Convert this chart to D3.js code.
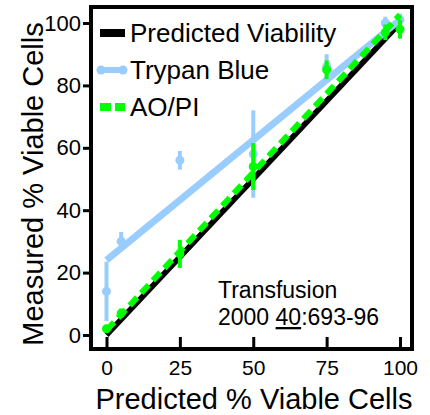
<!DOCTYPE html>
<html>
<head>
<meta charset="utf-8">
<script src="https://cdn.jsdelivr.net/npm/d3@7"></script>
<style>
  html, body { margin: 0; padding: 0; background: #fff; }
  svg { display: block; font-family: "Liberation Sans", Arial, sans-serif; }
</style>
</head>
<body>
<div id="chart"></div>
<script>
// Measured vs predicted viability - Trypan Blue vs AO/PI

const predicted = [0, 5, 25, 50, 75, 95, 100];
const trypanMean = [14, 30, 56, 58, 86, 100, 101];
const trypanErr = [9.5, 3, 3, 14, 4, 2, 2];
const aopiMean = [2, 7, 26, 54, 85, 97, 98];
const aopiErr = [1, 1.5, 4.5, 7.5, 3, 2.5, 3];

// fitted lines, [x, y] end points
const idealLine = [[0, 0], [100, 100]];
const trypanFit = [[0, 24], [100, 101]];
const aopiFit = [[0, 1.5], [100, 102.6]];

const xTicks = [0, 25, 50, 75, 100];
const yTicks = [0, 20, 40, 60, 80, 100];

const legendNames = ['Predicted Viability', 'Trypan Blue', 'AO/PI'];

const BLUE = '#99ccff';
const GREEN = '#00ff00';

const svg = d3.select('#chart').append('svg')
  .attr('width', 430)
  .attr('height', 415);

const x = d3.scaleLinear().domain([0, 100]).range([106.5, 400]);
const y = d3.scaleLinear().domain([0, 100]).range([335, 23]);

const line = d3.line()
  .x(d => x(d[0]))
  .y(d => y(d[1]));

// Frame
svg.append('rect')
  .attr('x', 91)
  .attr('y', 7)
  .attr('width', 321)
  .attr('height', 342)
  .attr('fill', 'none')
  .attr('stroke', '#000')
  .attr('stroke-width', 4);

// Y axis: ticks outward on the left
const yAxis = d3.axisLeft(y).tickValues(yTicks).tickSize(8).tickPadding(2);
const gy = svg.append('g')
  .attr('transform', 'translate(91,0)')
  .call(yAxis);
gy.select('.domain').remove();
gy.selectAll('.tick line').attr('stroke-width', 3);
gy.selectAll('.tick text')
  .attr('font-size', 22)
  .attr('font-family', '"Liberation Sans", Arial, sans-serif')
  .attr('fill', '#000');

// X axis: ticks pointing inward from the bottom edge
const xAxis = d3.axisBottom(x).tickValues(xTicks).tickSize(-12).tickPadding(0);
const gx = svg.append('g')
  .attr('transform', 'translate(0,349)')
  .call(xAxis);
gx.select('.domain').remove();
gx.selectAll('.tick line').attr('stroke-width', 3);
gx.selectAll('.tick text')
  .attr('y', 26)
  .attr('dy', 0)
  .attr('font-size', 21)
  .attr('font-family', '"Liberation Sans", Arial, sans-serif')
  .attr('fill', '#000');

// Axis titles
svg.append('text')
  .attr('x', 254)
  .attr('y', 409)
  .attr('text-anchor', 'middle')
  .attr('font-size', 29)
  .text('Predicted % Viable Cells');

svg.append('text')
  .attr('transform', 'translate(43,184) rotate(-90)')
  .attr('text-anchor', 'middle')
  .attr('font-size', 29)
  .text('Measured % Viable Cells');

// Lines
svg.append('path')
  .datum(idealLine)
  .attr('d', line)
  .attr('fill', 'none')
  .attr('stroke', '#000')
  .attr('stroke-width', 5.5);

svg.append('path')
  .datum(trypanFit)
  .attr('d', line)
  .attr('fill', 'none')
  .attr('stroke', BLUE)
  .attr('stroke-width', 7);

// Trypan blue error bars and points
const trypan = predicted.map((p, i) => ({ p, m: trypanMean[i], e: trypanErr[i] }));
svg.selectAll('.tb-err')
  .data(trypan)
  .enter()
  .append('line')
  .attr('class', 'tb-err')
  .attr('x1', d => x(d.p))
  .attr('x2', d => x(d.p))
  .attr('y1', d => y(d.m - d.e))
  .attr('y2', d => y(d.m + d.e))
  .attr('stroke', BLUE)
  .attr('stroke-width', 4);
svg.selectAll('.tb-pt')
  .data(trypan)
  .enter()
  .append('circle')
  .attr('class', 'tb-pt')
  .attr('cx', d => x(d.p))
  .attr('cy', d => y(d.m))
  .attr('r', 4.5)
  .attr('fill', BLUE);

svg.append('path')
  .datum(aopiFit)
  .attr('d', line)
  .attr('fill', 'none')
  .attr('stroke', GREEN)
  .attr('stroke-width', 6)
  .attr('stroke-dasharray', '11,6');

// AO/PI error bars and points
const aopi = predicted.map((p, i) => ({ p, m: aopiMean[i], e: aopiErr[i] }));
svg.selectAll('.ao-err')
  .data(aopi)
  .enter()
  .append('line')
  .attr('class', 'ao-err')
  .attr('x1', d => x(d.p))
  .attr('x2', d => x(d.p))
  .attr('y1', d => y(d.m - d.e))
  .attr('y2', d => y(d.m + d.e))
  .attr('stroke', GREEN)
  .attr('stroke-width', 4);
svg.selectAll('.ao-pt')
  .data(aopi)
  .enter()
  .append('circle')
  .attr('class', 'ao-pt')
  .attr('cx', d => x(d.p))
  .attr('cy', d => y(d.m))
  .attr('r', 4.5)
  .attr('fill', GREEN);

// Legend
const legendY = [33, 70, 107];
const lg = svg.append('g');
lg.append('line')
  .attr('x1', 100).attr('x2', 125)
  .attr('y1', legendY[0]).attr('y2', legendY[0])
  .attr('stroke', '#000')
  .attr('stroke-width', 8);
lg.append('line')
  .attr('x1', 100).attr('x2', 124)
  .attr('y1', legendY[1]).attr('y2', legendY[1])
  .attr('stroke', BLUE)
  .attr('stroke-width', 6);
lg.selectAll('.lg-dot')
  .data([101, 123])
  .enter()
  .append('circle')
  .attr('class', 'lg-dot')
  .attr('cx', d => d)
  .attr('cy', legendY[1])
  .attr('r', 4.5)
  .attr('fill', BLUE);
lg.append('line')
  .attr('x1', 100).attr('x2', 125)
  .attr('y1', legendY[2]).attr('y2', legendY[2])
  .attr('stroke', GREEN)
  .attr('stroke-width', 8)
  .attr('stroke-dasharray', '11,4');
lg.selectAll('.lg-text')
  .data(legendNames)
  .enter()
  .append('text')
  .attr('class', 'lg-text')
  .attr('x', 130)
  .attr('y', (d, i) => legendY[i] + 9)
  .attr('font-size', 26)
  .text(d => d);

// Citation
const cite = svg.append('text')
  .attr('x', 218)
  .attr('y', 298)
  .attr('font-size', 23);
cite.append('tspan').text('Transfusion');

const cite2 = svg.append('text')
  .attr('x', 218)
  .attr('y', 325)
  .attr('font-size', 23);
cite2.append('tspan').text('2000 ');
cite2.append('tspan').attr('text-decoration', 'underline').text('40');
cite2.append('tspan').text(':693-96');
</script>
</body>
</html>
